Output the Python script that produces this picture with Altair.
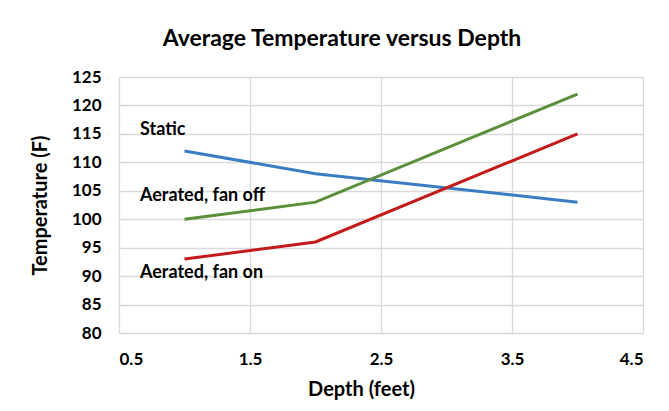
import altair as alt
import pandas as pd

# Data
depth = [1, 2, 4]
static = [112, 108, 103]
fan_off = [100, 103, 122]
fan_on = [93, 96, 115]
series_names = ["Static", "Aerated, fan off", "Aerated, fan on"]
series_colors = ["#3A7DC2", "#5B8F3A", "#C41A1A"]
x_ticks = [0.5, 1.5, 2.5, 3.5, 4.5]
y_ticks = [80, 85, 90, 95, 100, 105, 110, 115, 120, 125]

# Annotation labels (data-space anchors)
label_text = ["Static", "Aerated, fan off", "Aerated, fan on"]
label_x = [0.66, 0.66, 0.66]
label_y = [115.7, 104.0, 90.6]

rows = []
for name, vals in zip(series_names, [static, fan_off, fan_on]):
    for d, v in zip(depth, vals):
        rows.append({"Depth": d, "Temp": v, "Series": name})
df = pd.DataFrame(rows)
lab = pd.DataFrame({"text": label_text, "Depth": label_x, "Temp": label_y})

FONT = "Lato"

xscale = alt.Scale(domain=[0.5, 4.5], nice=False, zero=False)
yscale = alt.Scale(domain=[80, 125], nice=False, zero=False)

xaxis = alt.Axis(values=x_ticks, format=".1f",
                 title="Depth (feet)", ticks=False, domain=False,
                 labelPadding=18, labelFontSize=17, labelFontWeight="bold",
                 labelColor="#000000", labelFont=FONT, labelOverlap=False,
                 titleFont=FONT, titleFontSize=20, titleFontWeight="bold",
                 titleColor="#000000", titleX=242, titleY=62,
                 titleBaseline="alphabetic", titleAlign="center",
                 gridColor="#D9D9D9", gridWidth=1.3)
yaxis = alt.Axis(values=y_ticks, title="Temperature (F)",
                 ticks=False, domain=False, labelPadding=18,
                 labelFontSize=17, labelFontWeight="bold",
                 labelColor="#000000", labelFont=FONT, labelOverlap=False,
                 titleFont=FONT, titleFontSize=20, titleFontWeight="bold",
                 titleColor="#000000", titleX=-79, titleY=128,
                 titleAngle=270, titleBaseline="middle", titleAlign="center",
                 gridColor="#D9D9D9", gridWidth=1.3)

lines = alt.Chart(df).mark_line(strokeWidth=3).encode(
    x=alt.X("Depth:Q", scale=xscale, axis=xaxis),
    y=alt.Y("Temp:Q", scale=yscale, axis=yaxis),
    color=alt.Color("Series:N", scale=alt.Scale(domain=series_names, range=series_colors),
                    legend=None),
    detail="Series:N",
)

texts = alt.Chart(lab).mark_text(align="left", baseline="middle", font=FONT,
                                 fontSize=18, fontWeight="bold", color="#000000").encode(
    x=alt.X("Depth:Q", scale=xscale, axis=xaxis),
    y=alt.Y("Temp:Q", scale=yscale, axis=yaxis),
    text="text:N",
)

chart = alt.layer(lines, texts).properties(
    width=524, height=256,
    title=alt.TitleParams("Average Temperature versus Depth", font=FONT, fontSize=23,
                          fontWeight="bold", color="#000000", anchor="middle",
                          dx=-39, offset=17),
    autosize=alt.AutoSizeParams(type="none"),
    padding={"left": 111, "top": 69, "right": 10, "bottom": 75},
).configure_view(stroke=None).configure(background="#FFFFFF")

chart.save("out.html", embed_options={"renderer": "svg", "actions": False})
